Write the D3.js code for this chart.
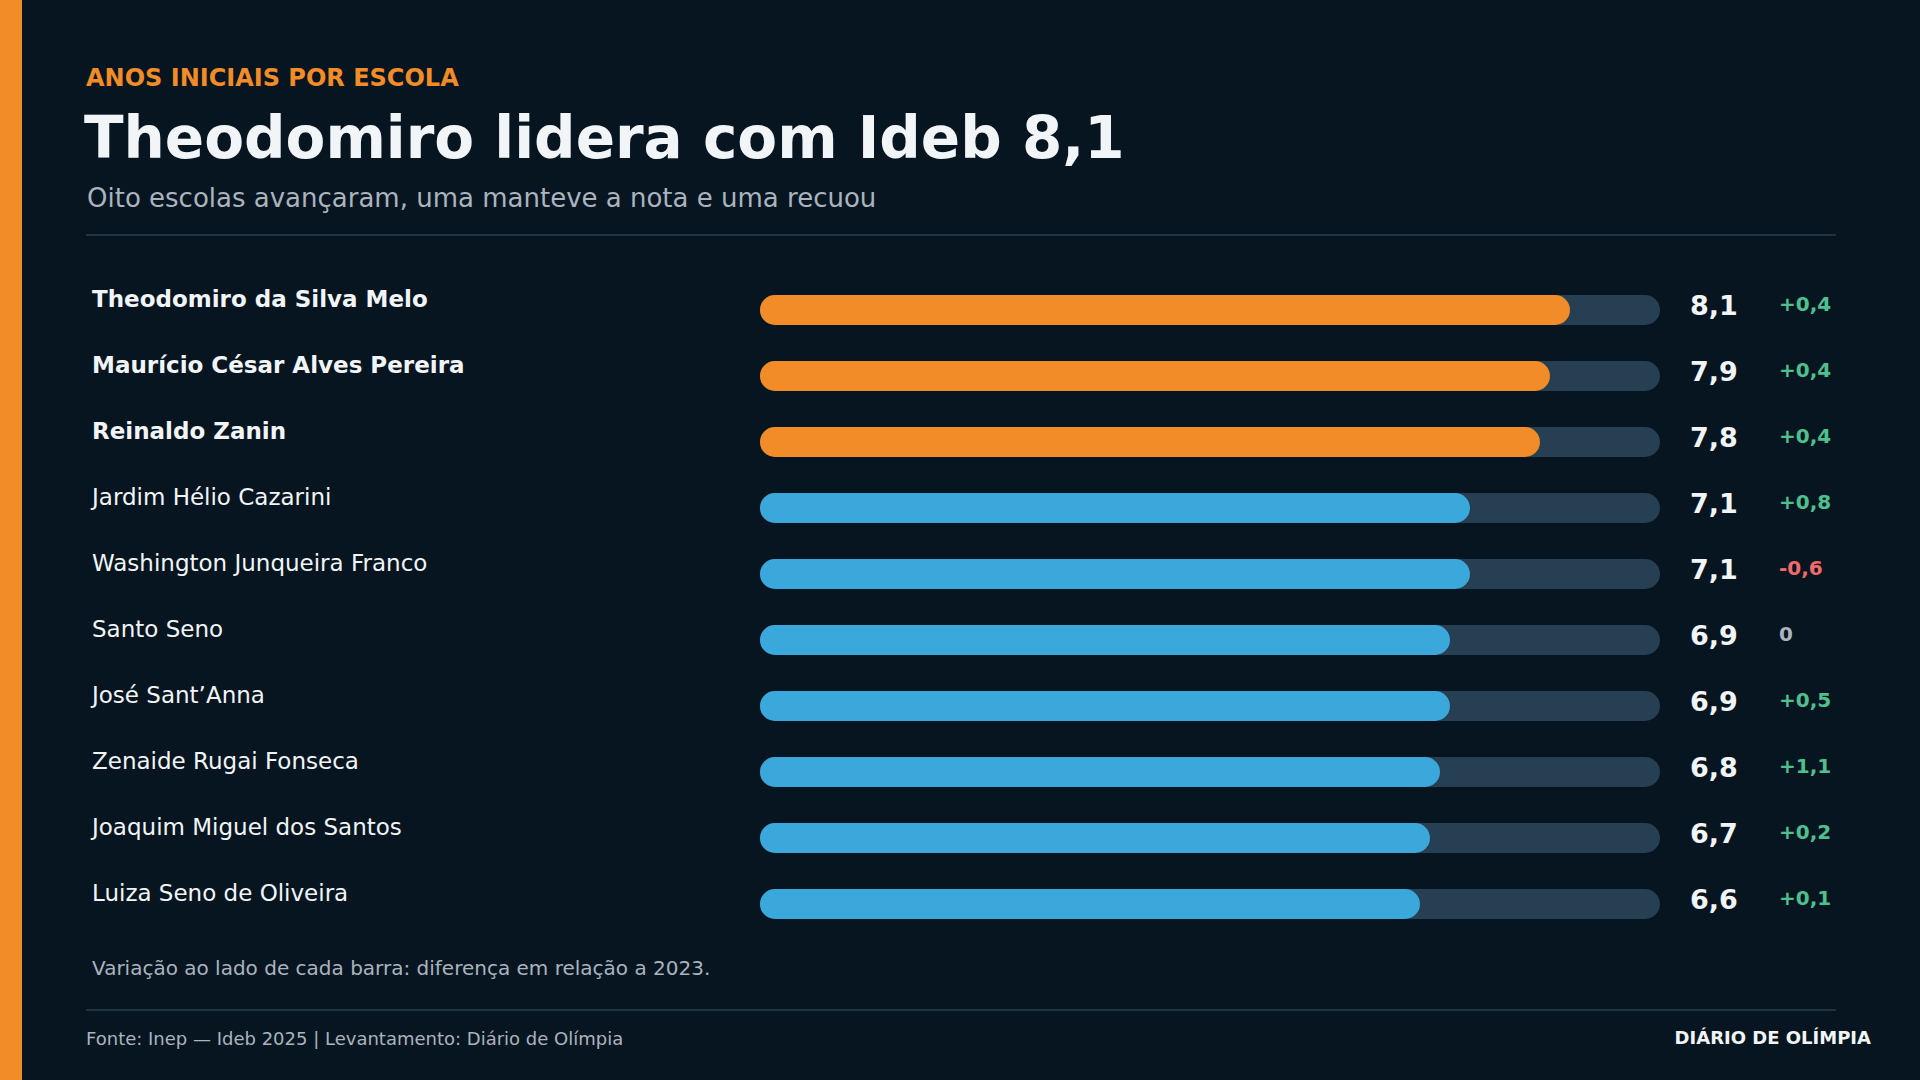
<!DOCTYPE html>
<html><head><meta charset="utf-8">
<script src="https://cdn.jsdelivr.net/npm/d3@7"></script>
<style>body{margin:0;background:#071521;}svg{display:block;font-family:"DejaVu Sans",sans-serif;}</style>
</head><body><div id="viz"></div>
<script>
const width = 1920, height = 1080;
const schools = ["Theodomiro da Silva Melo","Maurício César Alves Pereira","Reinaldo Zanin","Jardim Hélio Cazarini","Washington Junqueira Franco","Santo Seno","José Sant’Anna","Zenaide Rugai Fonseca","Joaquim Miguel dos Santos","Luiza Seno de Oliveira"];
const ideb = [8.1,7.9,7.8,7.1,7.1,6.9,6.9,6.8,6.7,6.6];
const change = [0.4,0.4,0.4,0.8,-0.6,0,0.5,1.1,0.2,0.1];
const fmt = v => v.toFixed(1).replace(".", ",");

const svg = d3.select('#viz').append('svg').attr('width', width).attr('height', height);
svg.append('rect').attr('width', width).attr('height', height).attr('fill', '#071521');
svg.append('rect').attr('width', 22).attr('height', height).attr('fill', '#f28c28');

svg.append('text').attr('x', 86).attr('y', 86).attr('fill', '#f28c28').attr('font-size', 24).attr('font-weight', 'bold').text('ANOS INICIAIS POR ESCOLA');
svg.append('text').attr('x', 84).attr('y', 158).attr('fill', '#f2f5f8').attr('font-size', 58).attr('font-weight', 'bold').text('Theodomiro lidera com Ideb 8,1');
svg.append('text').attr('x', 87).attr('y', 207).attr('fill', '#a9b4bf').attr('font-size', 26).text('Oito escolas avançaram, uma manteve a nota e uma recuou');
svg.append('line').attr('x1', 86).attr('x2', 1836).attr('y1', 235).attr('y2', 235).attr('stroke', '#2a3e4c').attr('stroke-width', 1.5);

const x = d3.scaleLinear().domain([0, 9]).range([760, 1660]);
const y = d3.scaleBand().domain(schools).range([274, 934]);
const barH = 30;

const row = svg.selectAll('g.row').data(schools).join('g').attr('class', 'row')
  .attr('transform', d => `translate(0, ${y(d) + y.bandwidth()/2})`);

row.append('text').attr('x', 92).attr('y', 0).attr('fill', '#f2f5f8').attr('font-size', 23)
  .attr('font-weight', (d, i) => i < 3 ? 'bold' : 'normal').text(d => d);
row.append('rect').attr('x', x(0)).attr('y', -barH/2 + 3).attr('width', x(9) - x(0)).attr('height', barH)
  .attr('rx', barH/2).attr('fill', '#263f52');
row.append('rect').attr('x', x(0)).attr('y', -barH/2 + 3).attr('width', (d, i) => x(ideb[i]) - x(0)).attr('height', barH)
  .attr('rx', barH/2).attr('fill', (d, i) => i < 3 ? '#f28c28' : '#3aa8db');
row.append('text').attr('x', 1690).attr('y', 8).attr('fill', '#f2f5f8').attr('font-size', 27).attr('font-weight', 'bold')
  .text((d, i) => fmt(ideb[i]));
row.append('text').attr('x', 1779).attr('y', 4).attr('font-size', 20).attr('font-weight', 'bold')
  .attr('fill', (d, i) => change[i] > 0 ? '#4fc08d' : change[i] < 0 ? '#f06b6b' : '#a9b4bf')
  .text((d, i) => change[i] > 0 ? '+' + fmt(change[i]) : change[i] < 0 ? '-' + fmt(-change[i]) : '0');

svg.append('text').attr('x', 92).attr('y', 975).attr('fill', '#a9b4bf').attr('font-size', 20).text('Variação ao lado de cada barra: diferença em relação a 2023.');
svg.append('line').attr('x1', 86).attr('x2', 1836).attr('y1', 1010).attr('y2', 1010).attr('stroke', '#2a3e4c').attr('stroke-width', 1.5);
svg.append('text').attr('x', 86).attr('y', 1045).attr('fill', '#a9b4bf').attr('font-size', 18).text('Fonte: Inep — Ideb 2025 | Levantamento: Diário de Olímpia');
svg.append('text').attr('x', 1871).attr('y', 1044).attr('text-anchor', 'end').attr('fill', '#f2f5f8').attr('font-size', 18).attr('font-weight', 'bold').text('DIÁRIO DE OLÍMPIA');
</script></body></html>
